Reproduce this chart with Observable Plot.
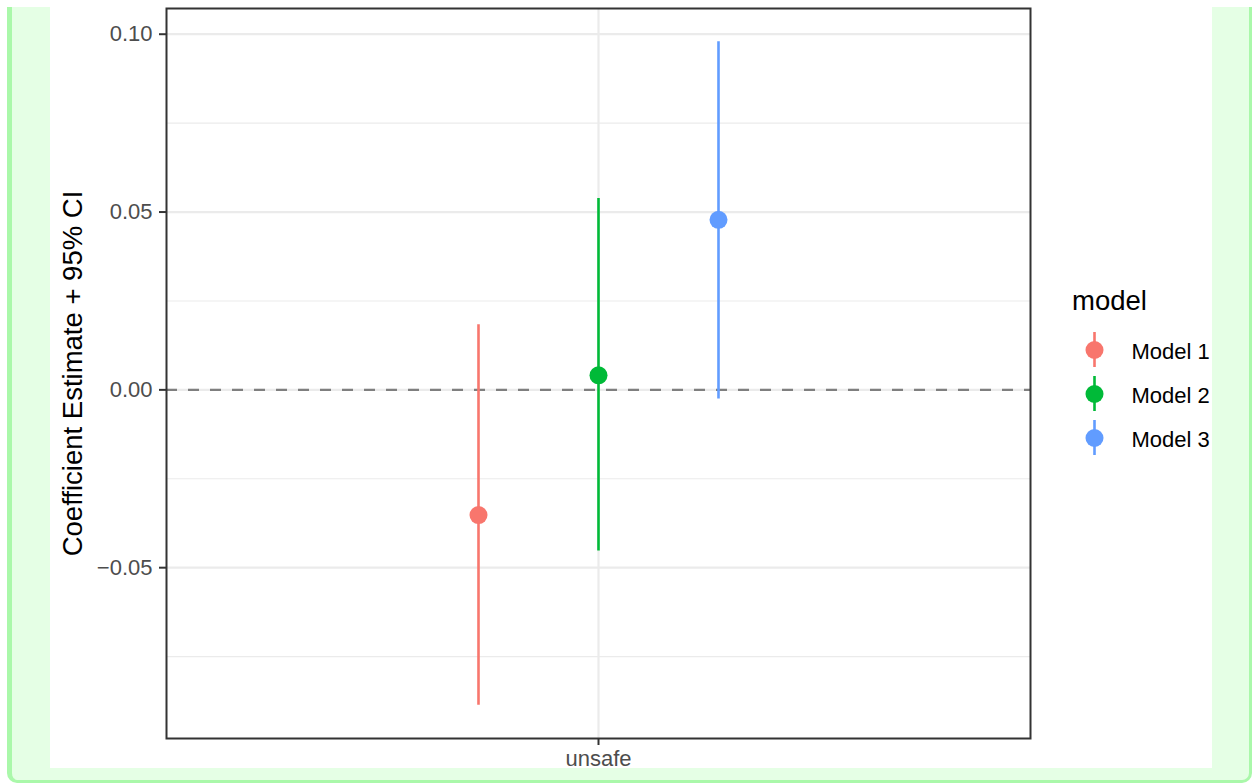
<!DOCTYPE html>
<html><head><meta charset="utf-8">
<script src="https://cdn.jsdelivr.net/npm/d3@7"></script>
<script src="https://cdn.jsdelivr.net/npm/@observablehq/plot@0.6"></script>
<style>
html,body{margin:0;padding:0;background:#fff;}
body{width:1252px;height:784px;position:relative;overflow:hidden;font-family:"Liberation Sans",Arial,sans-serif;}
#frame{position:absolute;left:7px;top:7px;width:1237px;height:773px;background:#e5ffe5;border-left:5px solid #aaf8aa;border-right:3px solid #aaf8aa;border-bottom:3px solid #aaf8aa;border-radius:0 0 10px 10px;}
#panel{position:absolute;left:50px;top:7px;width:1162px;height:761px;background:#fff;}
#chart{position:absolute;left:0;top:0;}
#legend{position:absolute;left:1060px;top:320px;}
#legtitle{position:absolute;left:1072px;top:287px;font-size:27.5px;line-height:27.5px;color:#000;white-space:nowrap;}
</style></head><body>
<div id="frame"></div><div id="panel"></div>
<div id="chart"></div><div id="legtitle">model</div><div id="legend"></div>
<script>
const categories = ["unsafe"];
const models = ["Model 1", "Model 2", "Model 3"];
const estimates = [-0.0352, 0.0041, 0.0478];
const lower = [-0.0887, -0.0453, -0.0026];
const upper = [0.0183, 0.0538, 0.0979];
const colors = ["#F8766D", "#00BA38", "#619CFF"];
const yMajor = [-0.05, 0, 0.05, 0.10];
const yMinor = [-0.075, -0.025, 0.025, 0.075];
const yLabel = "Coefficient Estimate + 95% CI";
const legendTitle = "model";
const dodgeWidth = 0.5;

const rows = models.map((m, i) => ({
  category: categories[0], model: m, est: estimates[i], lo: lower[i], hi: upper[i],
  x: 1 + (i - (models.length - 1) / 2) * dodgeWidth / models.length
}));

const yLo = d3.min(lower), yHi = d3.max(upper);
const pad = 0.05 * (yHi - yLo);
const font = "Liberation Sans, Arial, sans-serif";

const chart = Plot.plot({
  width: 1252, height: 784,
  marginLeft: 166, marginRight: 222, marginTop: 8, marginBottom: 46,
  style: {background: "transparent", fontFamily: font, fontSize: "22px", color: "#4d4d4d"},
  x: {domain: [0.4, categories.length + 0.6], axis: null},
  y: {domain: [yLo - pad, yHi + pad], axis: null},
  color: {domain: models, range: colors},
  marks: [
    Plot.gridY(yMinor, {stroke: "#ebebeb", strokeOpacity: 1, strokeWidth: 1.1}),
    Plot.gridY(yMajor, {stroke: "#ebebeb", strokeOpacity: 1, strokeWidth: 2.2}),
    Plot.gridX(categories.map((c, i) => i + 1), {stroke: "#ebebeb", strokeOpacity: 1, strokeWidth: 2.2}),
    Plot.ruleY([0], {stroke: "#7f7f7f", strokeWidth: 2.4, strokeDasharray: "11,11"}),
    Plot.ruleX(rows, {x: "x", y1: "lo", y2: "hi", stroke: "model", strokeWidth: 2.6}),
    Plot.dot(rows, {x: "x", y: "est", fill: "model", r: 9}),
    Plot.frame({stroke: "#333333", strokeWidth: 2}),
    Plot.axisY(yMajor, {tickSize: 7, tickPadding: 7, tickFormat: d3.format(".2f"), stroke: "#333333", strokeWidth: 2, fill: "#4d4d4d", fontSize: 22, label: null}),
    Plot.axisX(categories.map((c, i) => i + 1), {tickSize: 7, tickPadding: 5, tickFormat: d => categories[d - 1], stroke: "#333333", strokeWidth: 2, fill: "#4d4d4d", fontSize: 22, label: null}),
    Plot.text([yLabel], {frameAnchor: "left", dx: -93.5, rotate: -90, fontSize: 27.5, fill: "#000", lineAnchor: "middle", textAnchor: "middle"})
  ]
});
document.getElementById("chart").append(chart);
document.getElementById("legtitle").textContent = legendTitle;

const legend = Plot.plot({
  width: 190, height: 150, margin: 0,
  style: {background: "transparent", fontFamily: font, fontSize: "22px", color: "#000"},
  x: {domain: [0, 1], range: [34, 190], axis: null},
  y: {type: "band", domain: models, range: [11, 135], paddingInner: 0.213, paddingOuter: 0, axis: null},
  color: {domain: models, range: colors},
  marks: [
    Plot.tickX(models, {x: () => 0, y: d => d, stroke: d => d, strokeWidth: 2.6}),
    Plot.dot(models, {x: () => 0, y: d => d, fill: d => d, r: 9}),
    Plot.text(models, {x: () => 0, y: d => d, text: d => d, dx: 37, dy: 2, textAnchor: "start", fill: "#000", fontSize: 22})
  ]
});
document.getElementById("legend").append(legend);
</script>
</body></html>
